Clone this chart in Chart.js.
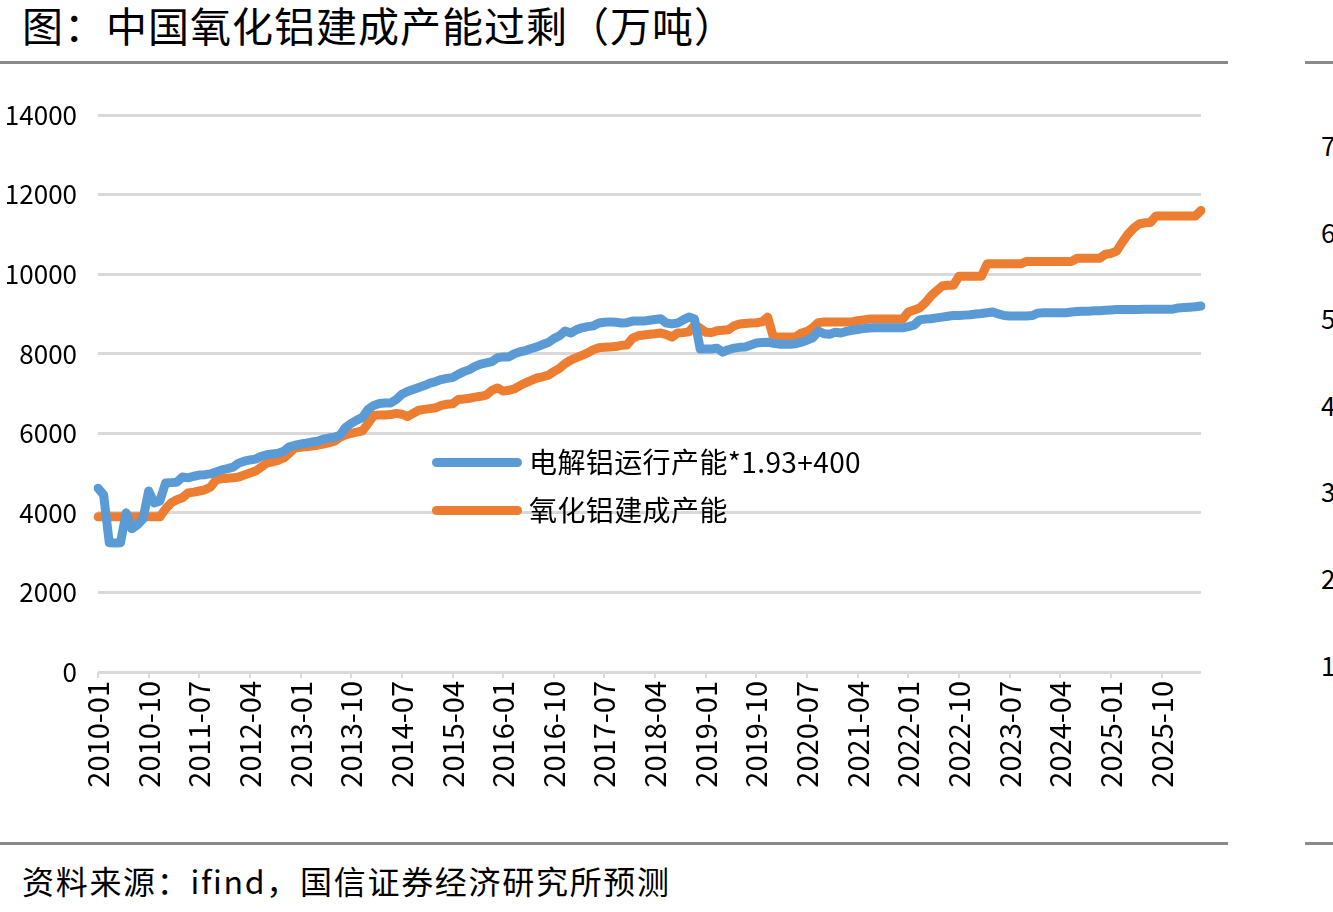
<!DOCTYPE html>
<html>
<head>
<meta charset="utf-8">
<script src="https://cdn.jsdelivr.net/npm/chart.js@4/dist/chart.umd.min.js"></script>
<style>
  html, body { margin: 0; padding: 0; background: #fff; }
  body { width: 1333px; height: 912px; position: relative; overflow: hidden;
         font-family: "Noto Sans CJK SC", "Noto Sans", sans-serif; color: #000; }
  .abs { position: absolute; white-space: nowrap; }
  .rule { position: absolute; height: 3px; background: #8a8a8a; }
  #wrap { position: absolute; left: 0; top: 70px; width: 1230px; height: 770px; }
  .legline { position: absolute; height: 9px; border-radius: 5px; }
</style>
</head>
<body>
<div class="abs" id="title" style="left:22px; top:0px; font-size:41px; line-height:48px; letter-spacing:1px;">图：中国氧化铝建成产能过剩（万吨）</div>
<div class="rule" style="left:0; top:61px; width:1228px;"></div>
<div class="rule" style="left:1305px; top:61px; width:28px;"></div>
<div class="rule" style="left:0; top:842px; width:1228px;"></div>
<div class="rule" style="left:1305px; top:842px; width:28px;"></div>
<div class="abs" style="left:22px; top:860px; font-size:32px; line-height:40px; letter-spacing:1.7px;">资料来源：ifind，国信证券经济研究所预测</div>
<div id="rightTicks"></div>
<div id="wrap"><canvas id="c"></canvas></div>
<div id="legend"></div>
<script>
// ---- data ----
const startYear = 2010, monthCount = 197; // 2010-01 .. 2026-05
const categories = [];
for (let i = 0; i < monthCount; i++) {
  const y = startYear + Math.floor(i / 12), m = (i % 12) + 1;
  categories.push(y + '-' + (m < 10 ? '0' + m : m));
}

const seriesNames = ['电解铝运行产能*1.93+400', '氧化铝建成产能'];

const electrolyticScaled = [
  4620,4450,3250,3240,3250,4000,3600,3700,3850,4550,4250,4300,
  4750,4760,4770,4900,4880,4920,4950,4960,4980,5030,5080,5110,
  5150,5250,5300,5330,5350,5420,5460,5480,5500,5550,5660,5700,
  5730,5750,5780,5800,5850,5880,5900,5950,6150,6250,6330,6400,
  6600,6700,6750,6760,6760,6850,6980,7050,7100,7150,7200,7260,
  7300,7350,7380,7400,7480,7550,7600,7680,7740,7770,7800,7900,
  7920,7920,8000,8050,8080,8130,8170,8230,8280,8380,8450,8570,
  8520,8600,8650,8680,8700,8770,8790,8800,8790,8770,8780,8820,
  8820,8820,8840,8860,8880,8770,8750,8770,8850,8920,8870,8120,
  8120,8120,8140,8040,8100,8140,8160,8170,8220,8270,8280,8290,
  8260,8240,8240,8240,8250,8290,8340,8400,8570,8500,8490,8540,
  8520,8560,8590,8610,8630,8645,8650,8650,8650,8650,8650,8650,
  8680,8720,8850,8870,8880,8900,8920,8940,8960,8960,8970,8980,
  9000,9010,9030,9050,9000,8960,8950,8950,8950,8950,8960,9020,
  9030,9030,9030,9030,9030,9050,9060,9070,9070,9080,9080,9090,
  9100,9110,9110,9110,9110,9110,9120,9120,9120,9120,9120,9120,
  9150,9160,9170,9180,9200
];

const aluminaCapacity = [
  3900,3900,3900,3900,3900,3900,3900,3900,3900,3900,3900,3900,
  4100,4250,4330,4380,4500,4520,4550,4580,4650,4830,4860,4870,
  4880,4900,4950,5000,5050,5150,5250,5280,5320,5380,5500,5630,
  5650,5660,5680,5700,5730,5760,5800,5900,5960,6000,6030,6060,
  6250,6450,6460,6460,6470,6500,6480,6420,6500,6580,6600,6620,
  6640,6700,6730,6740,6850,6860,6880,6910,6930,6960,7080,7140,
  7060,7080,7120,7200,7270,7330,7390,7420,7460,7550,7630,7750,
  7840,7900,7960,8020,8100,8150,8160,8170,8180,8210,8220,8390,
  8450,8470,8490,8500,8520,8480,8420,8520,8530,8550,8720,8640,
  8540,8530,8580,8590,8600,8700,8745,8760,8770,8780,8800,8920,
  8420,8420,8420,8420,8420,8520,8560,8650,8780,8800,8800,8800,
  8800,8800,8800,8830,8850,8870,8870,8870,8870,8870,8870,8870,
  9050,9100,9150,9280,9450,9580,9700,9720,9720,9950,9950,9950,
  9950,9950,10260,10260,10260,10260,10260,10260,10260,10320,10320,10320,
  10320,10320,10320,10320,10320,10320,10400,10400,10400,10400,10400,10500,
  10520,10580,10800,11000,11150,11260,11290,11300,11460,11460,11460,11460,
  11460,11460,11460,11460,11600
];

const yTicks = [0, 2000, 4000, 6000, 8000, 10000, 12000, 14000];
const labelEvery = 9;
const rightPanelTicks = ['7', '6', '5', '4', '3', '2', '1'];
const colors = ['#5B9BD5', '#ED7D31'];

// ---- chart ----
const chart = new Chart(document.getElementById('c'), {
  type: 'line',
  data: {
    labels: categories,
    datasets: [
      { label: seriesNames[0], data: electrolyticScaled, borderColor: colors[0], backgroundColor: colors[0] },
      { label: seriesNames[1], data: aluminaCapacity, borderColor: colors[1], backgroundColor: colors[1] }
    ]
  },
  options: {
    responsive: true,
    maintainAspectRatio: false,
    animation: false,
    layout: { padding: { top: 45, right: 29, left: 0, bottom: 0 } },
    elements: {
      point: { radius: 0, hoverRadius: 0 },
      line: { borderWidth: 9, tension: 0, borderCapStyle: 'round', borderJoinStyle: 'round' }
    },
    plugins: { legend: { display: false }, tooltip: { enabled: false } },
    scales: {
      x: {
        type: 'category',
        offset: false,
        border: { display: false },
        grid: {
          drawOnChartArea: false,
          drawTicks: true,
          tickLength: 6,
          lineWidth: 2,
          color: (ctx) => (ctx.index % labelEvery === 0 ? '#d9d9d9' : 'rgba(0,0,0,0)')
        },
        ticks: {
          autoSkip: false,
          minRotation: 90,
          maxRotation: 90,
          padding: 3,
          color: '#000',
          font: { family: '"Noto Sans CJK SC", sans-serif', size: 29 },
          callback: (v, i) => (i % labelEvery === 0 ? categories[i] : '')
        },
        afterFit: (s) => { s.height = 168; s.paddingLeft = 0; s.paddingRight = 0; }
      },
      y: {
        min: yTicks[0],
        max: yTicks[yTicks.length - 1],
        border: { display: false },
        grid: { color: '#d9d9d9', lineWidth: 3, drawTicks: false },
        afterBuildTicks: (s) => { s.ticks = yTicks.map(v => ({ value: v })); },
        ticks: {
          padding: 21,
          color: '#000',
          font: { family: '"Noto Sans CJK SC", sans-serif', size: 26 },
          callback: (v) => String(v)
        },
        afterFit: (s) => { s.width = 98; s.paddingTop = 0; s.paddingBottom = 0; }
      }
    }
  }
});

// ---- legend (HTML, from datasets) ----
const leg = document.getElementById('legend');
const legendY = [462, 510];
chart.data.datasets.forEach((ds, i) => {
  const line = document.createElement('div');
  line.className = 'legline';
  line.style.left = '432px';
  line.style.width = '90px';
  line.style.top = (legendY[i] - 4) + 'px';
  line.style.background = ds.borderColor;
  leg.appendChild(line);
  const t = document.createElement('div');
  t.className = 'abs';
  t.style.left = '529px';
  t.style.top = (legendY[i] - 19) + 'px';
  t.style.fontSize = '28px';
  t.style.lineHeight = '36px';
  t.style.letterSpacing = '0.4px';
  t.textContent = ds.label;
  leg.appendChild(t);
});

// ---- neighbouring panel's cut-off tick labels ----
const rt = document.getElementById('rightTicks');
const rtY = [145, 232, 318, 405, 491, 578, 665];
rightPanelTicks.forEach((s, i) => {
  const d = document.createElement('div');
  d.className = 'abs';
  d.style.left = '1321px';
  d.style.top = (rtY[i] - 16) + 'px';
  d.style.fontSize = '26px';
  d.style.lineHeight = '32px';
  d.textContent = s;
  rt.appendChild(d);
});
</script>
</body>
</html>
